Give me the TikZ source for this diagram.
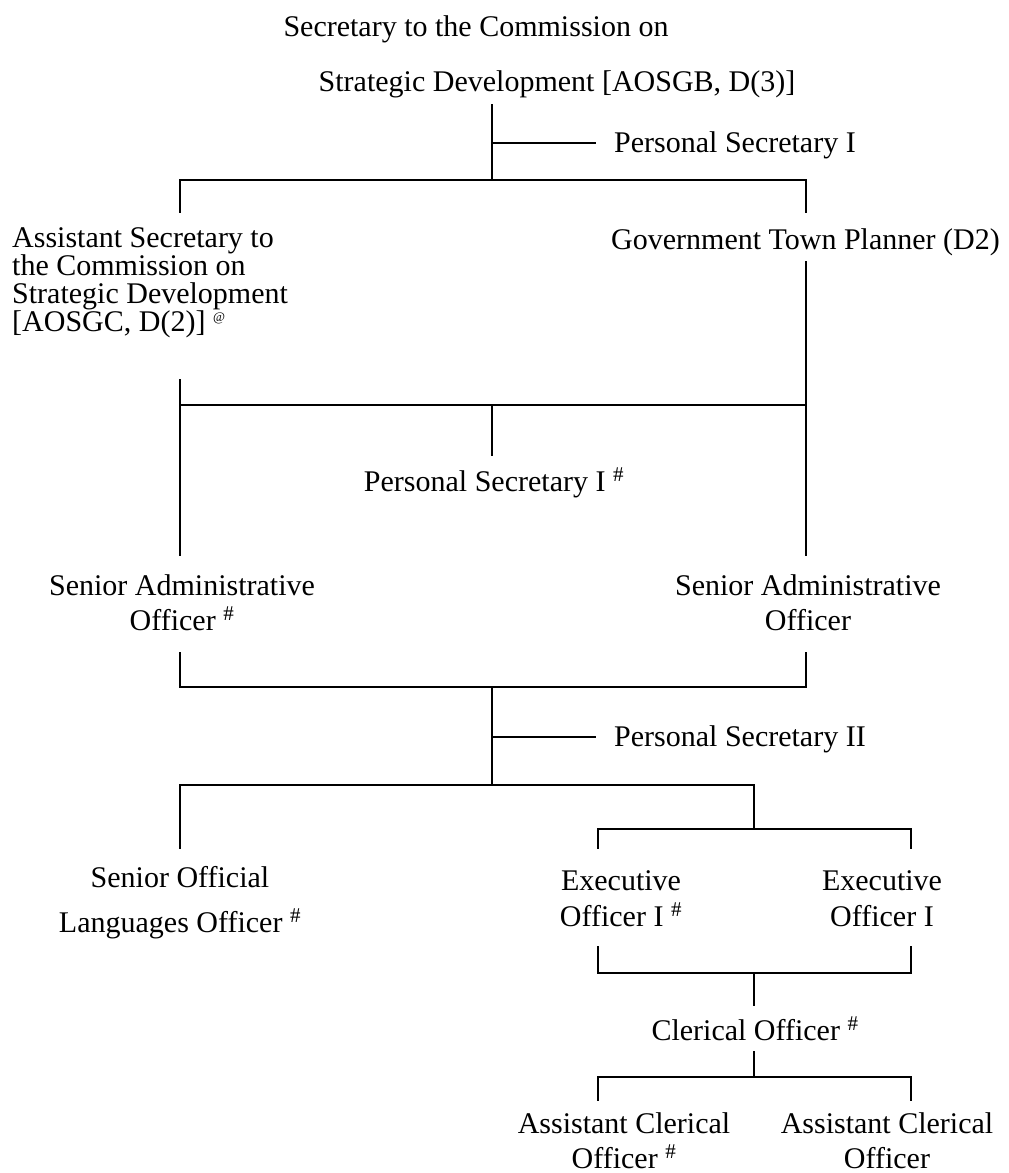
\documentclass[tikz,border=0pt]{standalone}
\usepackage{fontspec}
\setmainfont{Liberation Serif}
\begin{document}
\begin{tikzpicture}[x=1pt,y=-1pt,
  lbl/.style={inner sep=0pt, font=\fontsize{30}{28}\selectfont, anchor=base},
  conn/.style={line width=1.8pt, line cap=rect}]
\useasboundingbox (0,0) rectangle (1009,1173);
% ---- texts (multi-line nodes: base = baseline of last line)
\node[lbl] (top1) at (476,36) {Secretary to the Commission on};
\node[lbl] (top2) at (557,91) {Strategic Development [AOSGB, D(3)]};
\node[lbl, anchor=base west] (ps1) at (614,152) {Personal Secretary I};
\node[lbl, anchor=base west, align=left] (asst) at (12,331) {Assistant Secretary to\\the Commission on\\Strategic Development\\{}[AOSGC, D(2)] \textsuperscript{\fontsize{13}{13}\selectfont @}};
\node[lbl, anchor=base west] (gtp) at (611,249) {Government Town Planner (D2)};
\node[lbl] (ps1b) at (494,491) {Personal Secretary I \textsuperscript{\#}};
\node[lbl, align=center, font=\fontsize{30}{35}\selectfont] (sao1) at (182,630) {Senior Administrative\\Officer \textsuperscript{\#}};
\node[lbl, align=center, font=\fontsize{30}{35}\selectfont] (sao2) at (808,630) {Senior Administrative\\Officer};
\node[lbl, anchor=base west] (ps2) at (614,746) {Personal Secretary II};
\node[lbl, align=center, font=\fontsize{30}{45}\selectfont] (sol) at (180,932) {Senior Official\\Languages Officer \textsuperscript{\#}};
\node[lbl, align=center, font=\fontsize{30}{36}\selectfont] (eo1) at (621,926) {Executive\\Officer I \textsuperscript{\#}};
\node[lbl, align=center, font=\fontsize{30}{36}\selectfont] (eo2) at (882,926) {Executive\\Officer I};
\node[lbl] (co) at (755,1040) {Clerical Officer \textsuperscript{\#}};
\node[lbl, align=center, font=\fontsize{30}{35}\selectfont] (aco1) at (624,1168) {Assistant Clerical\\Officer \textsuperscript{\#}};
\node[lbl, align=center, font=\fontsize{30}{35}\selectfont] (aco2) at (887,1168) {Assistant Clerical\\Officer};
% ---- junction coordinates
\coordinate (t0) at (492,105);
\coordinate (t1) at (492,143);
\coordinate (t1e) at (595,143);
\coordinate (b1) at (492,180);
\coordinate (b1L) at (180,180);
\coordinate (b1R) at (806,180);
\coordinate (asstT) at (180,212);
\coordinate (gtpT) at (806,212);
\coordinate (asstB) at (180,380);
\coordinate (gtpB) at (806,262);
\coordinate (b2L) at (180,405);
\coordinate (b2R) at (806,405);
\coordinate (b2M) at (492,405);
\coordinate (ps1bT) at (492,455);
\coordinate (sao1T) at (180,555);
\coordinate (sao2T) at (806,555);
\coordinate (sao1B) at (180,653);
\coordinate (sao2B) at (806,653);
\coordinate (b3L) at (180,687);
\coordinate (b3R) at (806,687);
\coordinate (b3M) at (492,687);
\coordinate (t2) at (492,737);
\coordinate (t2e) at (595,737);
\coordinate (b4M) at (492,785);
\coordinate (b4L) at (180,785);
\coordinate (b4R) at (754,785);
\coordinate (solT) at (180,848);
\coordinate (b5M) at (754,829);
\coordinate (b5L) at (598,829);
\coordinate (b5R) at (911,829);
\coordinate (eo1T) at (598,848);
\coordinate (eo2T) at (911,848);
\coordinate (eo1B) at (598,947);
\coordinate (eo2B) at (911,947);
\coordinate (b6L) at (598,973);
\coordinate (b6R) at (911,973);
\coordinate (b6M) at (754,973);
\coordinate (coT) at (754,1005);
\coordinate (coB) at (754,1052);
\coordinate (b7M) at (754,1077);
\coordinate (b7L) at (598,1077);
\coordinate (b7R) at (911,1077);
\coordinate (aco1T) at (598,1100);
\coordinate (aco2T) at (911,1100);
% ---- connectors
\draw[conn] (t0) -- (b1);
\draw[conn] (t1) -- (t1e);
\draw[conn] (asstT) -- (b1L) -- (b1R) -- (gtpT);
\draw[conn] (gtpB) -- (sao2T);
\draw[conn] (asstB) -- (sao1T);
\draw[conn] (b2L) -- (b2R);
\draw[conn] (b2M) -- (ps1bT);
\draw[conn] (sao1B) -- (b3L) -- (b3R) -- (sao2B);
\draw[conn] (b3M) -- (b4M);
\draw[conn] (t2) -- (t2e);
\draw[conn] (solT) -- (b4L) -- (b4R) -- (b5M);
\draw[conn] (eo1T) -- (b5L) -- (b5R) -- (eo2T);
\draw[conn] (eo1B) -- (b6L) -- (b6R) -- (eo2B);
\draw[conn] (b6M) -- (coT);
\draw[conn] (coB) -- (b7M);
\draw[conn] (aco1T) -- (b7L) -- (b7R) -- (aco2T);
\end{tikzpicture}
\end{document}
